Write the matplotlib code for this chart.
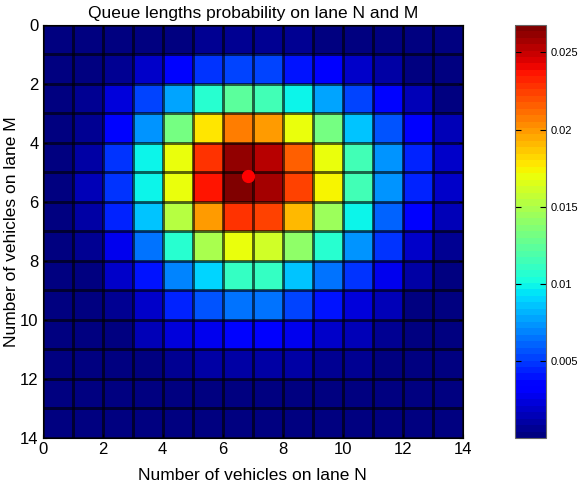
import numpy as np
import matplotlib
matplotlib.use('Agg')
import matplotlib.pyplot as plt

plt.rcParams['font.family'] = ['Liberation Sans', 'DejaVu Sans']

# Probabilidades (linhas = fila M, colunas = fila N)
prob = [
    [0.00002, 0.00005, 0.0001, 0.0002, 0.0003, 0.0005, 0.0006, 0.0006, 0.0005, 0.0004, 0.0003, 0.0002, 0.0001, 0.00005],
    [0.0001, 0.0003, 0.0007, 0.0017, 0.0034, 0.0047, 0.0054, 0.0052, 0.0040, 0.0030, 0.0020, 0.0010, 0.0004, 0.0002],
    [0.0002, 0.0007, 0.0023, 0.0054, 0.0077, 0.0105, 0.0122, 0.0117, 0.0100, 0.0077, 0.0054, 0.0034, 0.0013, 0.0003],
    [0.0002, 0.0007, 0.0034, 0.0074, 0.0134, 0.0178, 0.0206, 0.0199, 0.0171, 0.0130, 0.0087, 0.0057, 0.0030, 0.0013],
    [0.0002, 0.0010, 0.0047, 0.0100, 0.0168, 0.0228, 0.0261, 0.0255, 0.0214, 0.0168, 0.0117, 0.0074, 0.0044, 0.0017],
    [0.0002, 0.0013, 0.0047, 0.0100, 0.0171, 0.0235, 0.0268, 0.0258, 0.0224, 0.0174, 0.0117, 0.0074, 0.0044, 0.0017],
    [0.0002, 0.0010, 0.0044, 0.0087, 0.0151, 0.0201, 0.0228, 0.0224, 0.0191, 0.0144, 0.0100, 0.0060, 0.0030, 0.0013],
    [0.0002, 0.0007, 0.0027, 0.0067, 0.0107, 0.0147, 0.0168, 0.0161, 0.0141, 0.0107, 0.0074, 0.0050, 0.0020, 0.0007],
    [0.0001, 0.0003, 0.0017, 0.0040, 0.0070, 0.0090, 0.0110, 0.0110, 0.0087, 0.0067, 0.0047, 0.0027, 0.0010, 0.0003],
    [0.0001, 0.0002, 0.0007, 0.0020, 0.0044, 0.0057, 0.0064, 0.0064, 0.0054, 0.0040, 0.0023, 0.0013, 0.0003, 0.0002],
    [0.0001, 0.0001, 0.0003, 0.0013, 0.0023, 0.0027, 0.0034, 0.0033, 0.0027, 0.0020, 0.0013, 0.0007, 0.0002, 0.0001],
    [0.0001, 0.0001, 0.0002, 0.0004, 0.0008, 0.0010, 0.0012, 0.0012, 0.0010, 0.0008, 0.0005, 0.0003, 0.0001, 0.0001],
    [0.00003, 0.00005, 0.0001, 0.0002, 0.0003, 0.0004, 0.0004, 0.0004, 0.0003, 0.0003, 0.0002, 0.0001, 0.00005, 0.00003],
    [0.00002, 0.00003, 0.00005, 0.0001, 0.0001, 0.0002, 0.0002, 0.0002, 0.0002, 0.0001, 0.0001, 0.00005, 0.00003, 0.00002],
]
# Ponto médio (N, M) marcado em vermelho
media_n = 6.83
media_m = 5.13

ticks_eixo = [0, 2, 4, 6, 8, 10, 12, 14]
ticks_barra = [0.005, 0.01, 0.015, 0.02, 0.025]

P = np.array(prob)
n_lin, n_col = P.shape

fig = plt.figure(figsize=(5.81, 4.84), dpi=100)
ax = fig.add_axes([0.0735, 0.095, 0.7229, 0.854])

cmap = plt.get_cmap('jet', 64)
mesh = ax.pcolormesh(np.arange(n_col + 1), np.arange(n_lin + 1), P, cmap=cmap,
                     vmin=P.min(), vmax=P.max(), edgecolors='none')
# Linhas da grade (estilo "faceted" do pcolor)
for grade in (ax.vlines(np.arange(n_col + 1), 0, n_lin, colors='black', linewidth=1.0, alpha=0.6),
              ax.hlines(np.arange(n_lin + 1), 0, n_col, colors='black', linewidth=1.0, alpha=0.6)):
    grade.set_snap(True)
    grade.set_antialiased(False)
ax.plot([media_n], [media_m], 'o', color='red', markersize=8.5)

ax.set_xlim(0, n_col)
ax.set_ylim(n_lin, 0)
ax.set_xticks(ticks_eixo)
ax.set_yticks(ticks_eixo)
ax.tick_params(direction='in', length=3, labelsize=12, top=True, right=True, pad=3)
ax.set_title('Queue lengths probability on lane N and M', fontsize=12.5, pad=5)
ax.set_xlabel('Number of vehicles on lane N', fontsize=12.5, labelpad=7.5)
ax.set_ylabel('Number of vehicles on lane M', fontsize=12.5, labelpad=0.5)

# Barra de cores
cax = fig.add_axes([0.8864, 0.095, 0.0534, 0.854])
cb = fig.colorbar(mesh, cax=cax, ticks=ticks_barra)
cb.ax.set_yticklabels([str(t) for t in ticks_barra])
cb.ax.tick_params(direction='in', length=4, left=True, right=True, labelsize=8)
cb.outline.set_edgecolor('0.4')

fig.savefig('out.png', dpi=100)
